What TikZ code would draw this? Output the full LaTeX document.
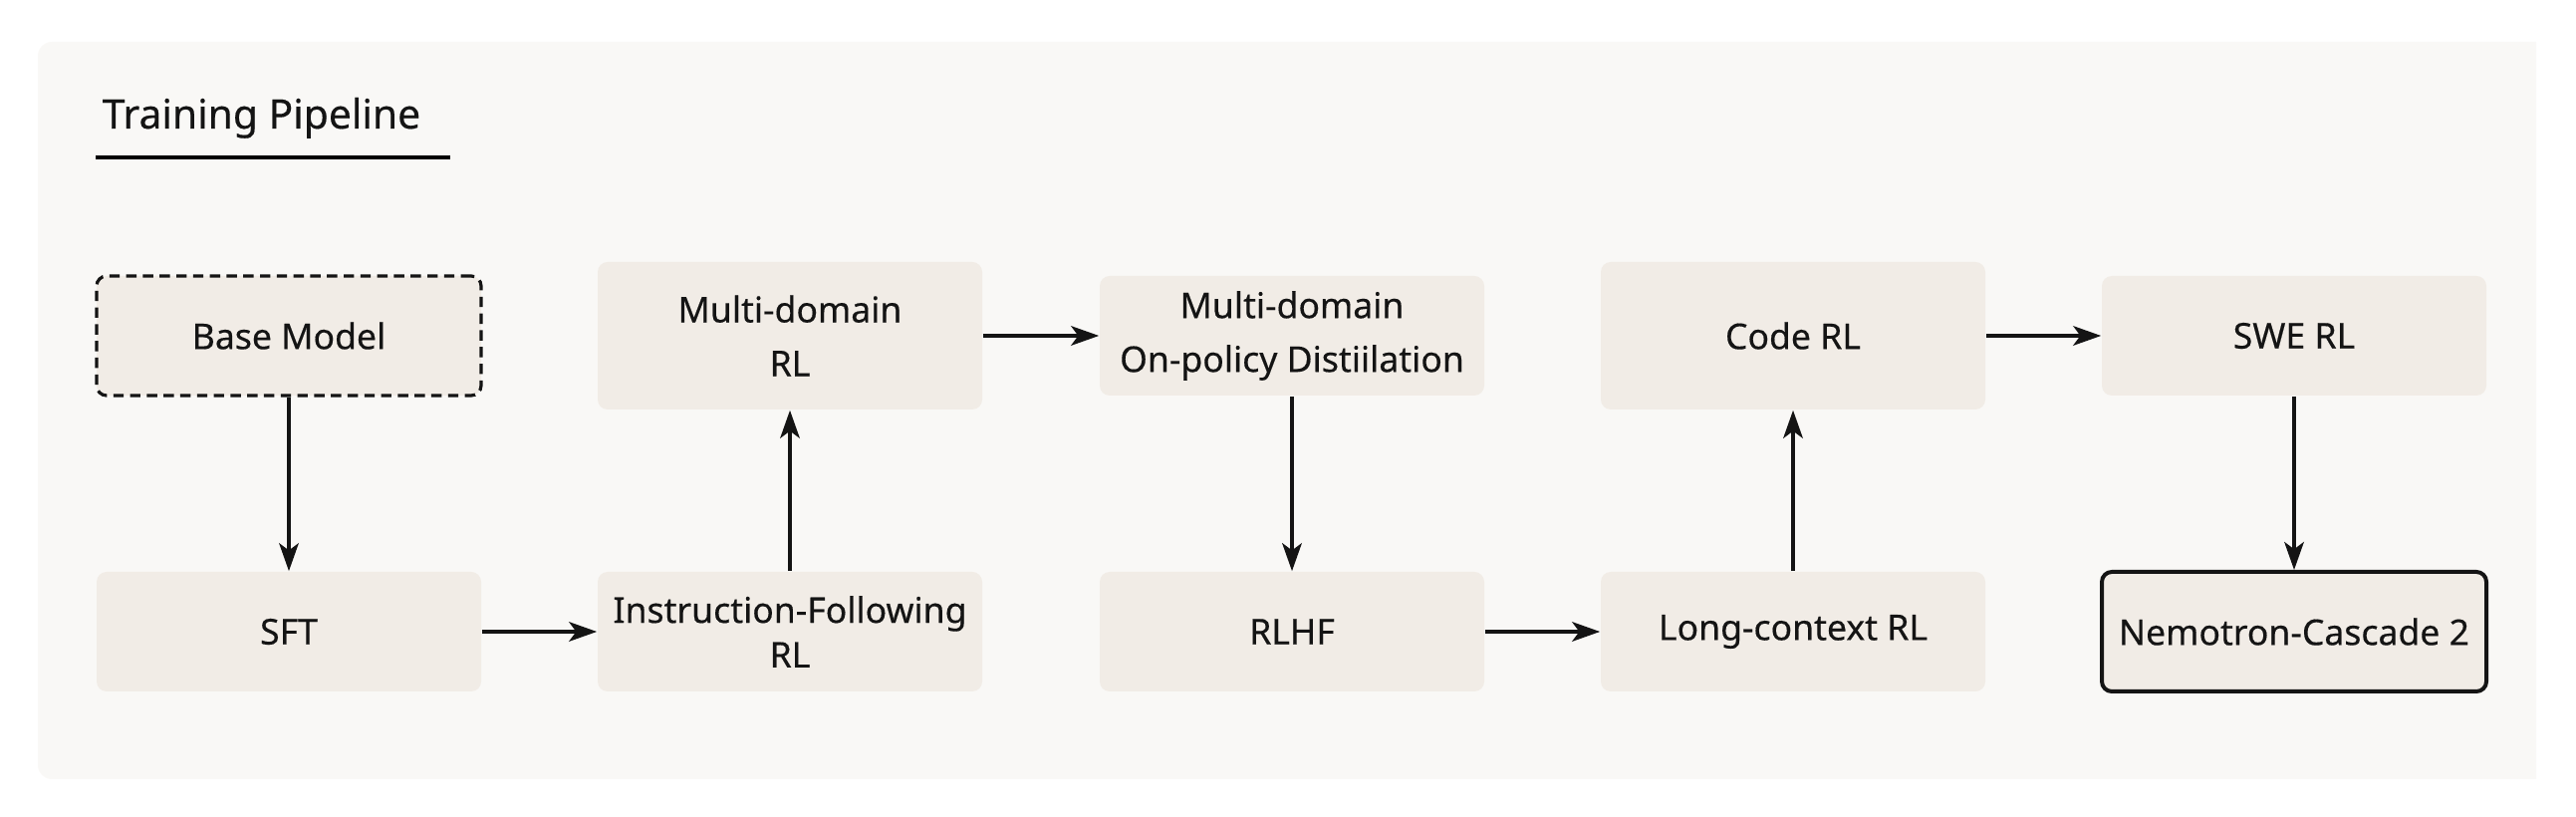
\documentclass[tikz,border=0pt]{standalone}
\usepackage{fontspec}
\setmainfont{Noto Sans}
\newfontface\stageface{Noto Sans}[FakeBold=0.35]
\usepackage{xcolor}
\usetikzlibrary{arrows.meta}
\definecolor{panelbg}{HTML}{F9F8F6}
\definecolor{stagebg}{HTML}{F1ECE6}
\definecolor{ink}{HTML}{141414}

\begin{document}
\begin{tikzpicture}[x=0.25pt,y=-0.25pt,>={Stealth[length=7pt,width=4.9pt,inset=1.8pt]},
  every node/.style={font=\stageface\fontsize{8.9}{11.2}\selectfont,text=ink},
  stage/.style={fill=stagebg,rounded corners=2.5pt,minimum width=96.5pt,minimum height=30pt,inner sep=0pt,align=center},
  tallstage/.style={stage,minimum height=37pt},
  flow/.style={->,line width=0.85pt,draw=ink}]
  \useasboundingbox (0,0) rectangle (2586,820);
  \begin{scope}
    \clip (0,0) rectangle (2546,820);
    \fill[panelbg,rounded corners=3.5pt] (38,42) rectangle (2620,782);
  \end{scope}
  \node[anchor=base west,inner sep=0pt,font=\stageface\fontsize{10.2}{12}\selectfont] (title) at (102,129) {Training Pipeline};
  \draw[line width=1.1pt] (96,158) -- (452,158);
  % top and bottom rows
  \node[stage,draw=ink,line width=0.8pt,dash pattern=on 2.6pt off 1.6pt] (base) at (290,337) {Base Model};
  \node[stage] (sft) at (290,634) {SFT};
  \node[tallstage] (mdrl) at (793,337) {Multi-domain\\[2.3pt]RL};
  \node[stage] (ifrl) at (793,634) {Instruction-Following\\RL};
  \node[stage] (opd) at (1297,337) {Multi-domain\\[2.3pt]On-policy Distiilation};
  \node[stage] (rlhf) at (1297,634) {RLHF};
  \node[tallstage] (code) at (1800,337) {Code RL};
  \node[stage] (longctx) at (1800,634) {Long-context RL};
  \node[stage] (swe) at (2303,337) {SWE RL};
  \node[stage,draw=ink,line width=1pt] (final) at (2303,634) {Nemotron-Cascade 2};
  \foreach \from/\to in {base/sft,sft/ifrl,ifrl/mdrl,mdrl/opd,opd/rlhf,rlhf/longctx,longctx/code,code/swe,swe/final}
    \draw[flow] (\from) -- (\to);
\end{tikzpicture}
\end{document}
